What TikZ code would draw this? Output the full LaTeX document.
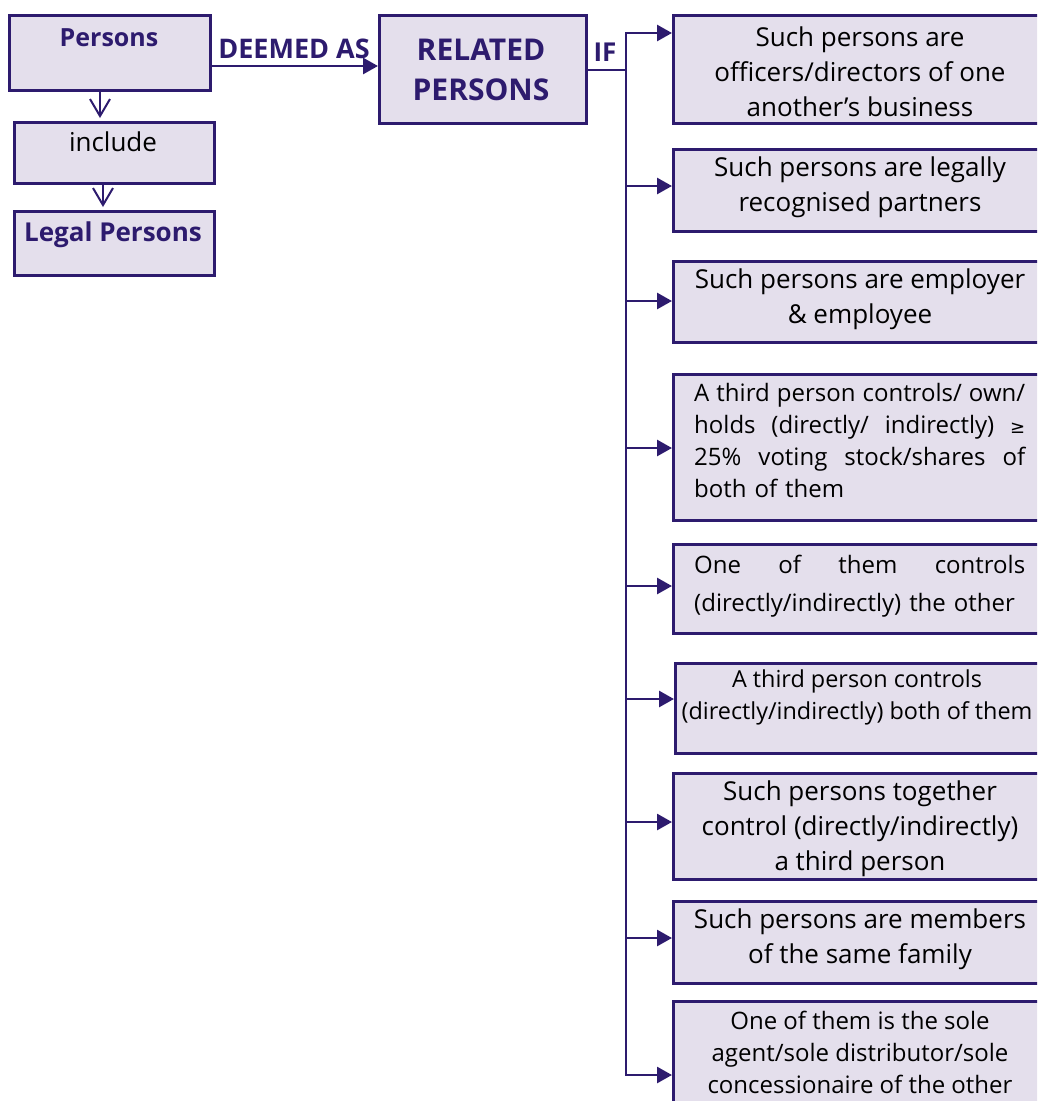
\documentclass[tikz,border=0pt]{standalone}
\usepackage{fontspec}
\setmainfont{Open Sans}
\newfontfamily\symfont{DejaVu Sans}
\usetikzlibrary{arrows.meta}
\definecolor{ind}{HTML}{2D1B6E}
\definecolor{lav}{HTML}{E4DFEC}
\newcommand\jline[1]{\makebox[331pt][l]{#1}}
\tikzset{
  box/.style={draw=ind, fill=lav, line width=2.6pt, inner sep=0pt, anchor=north west},
  txt/.style={font=\fontsize{26}{35}\selectfont, align=center, inner sep=0pt, text=black},
  stxt/.style={font=\fontsize{24}{32}\selectfont, align=center, inner sep=0pt, text=black},
  head/.style={font=\fontsize{25}{34}\selectfont\bfseries, align=center, inner sep=0pt, text=ind},
  conn/.style={draw=ind, line width=2.8pt},
  arr/.style={conn, -{Triangle[length=15pt,width=16pt]}},
  downarr/.style={draw=ind, line width=2pt, -{Straight Barb[length=17pt,width=20pt,line width=2pt]}, shorten >=3pt}
}
\begin{document}
\begin{tikzpicture}[x=1pt,y=-1pt]
\useasboundingbox (0,0) rectangle (1037,1101);
\clip (0,0) rectangle (1037,1101);
% left boxes
\node[box, minimum width=201pt, minimum height=75pt] (persons) at (8,14) {};
\node[box, minimum width=200pt, minimum height=61pt] (include) at (13,121) {};
\node[box, minimum width=200pt, minimum height=64pt] (legal) at (13,210) {};
\node[box, minimum width=207pt, minimum height=108pt] (rel) at (378,14) {};
\node[head] (tpersons) at (109,38) {Persons};
\node[txt] (tinclude) at (113,142) {include};
\node[head, font=\fontsize{26}{34}\selectfont\bfseries] (tlegal) at (113,235) {Legal Persons};
\node[head, font=\fontsize{30}{40}\selectfont\bfseries] (trel) at (481,70) {RELATED\\PERSONS};
\node[head, font=\fontsize{27}{34}\selectfont\bfseries] (tdeemed) at (294,49) {DEEMED AS};
\node[head, font=\fontsize{26}{34}\selectfont\bfseries] (tif) at (605,52) {IF};
% right boxes
\node[box, minimum width=376pt, minimum height=108pt] (b1) at (672,14) {};
\node[box, minimum width=376pt, minimum height=82pt] (b2) at (672,148) {};
\node[box, minimum width=376pt, minimum height=81pt] (b3) at (672,260) {};
\node[box, minimum width=376pt, minimum height=146pt] (b4) at (672,373) {};
\node[box, minimum width=376pt, minimum height=89pt] (b5) at (672,543) {};
\node[box, minimum width=374pt, minimum height=90pt] (b6) at (674,662) {};
\node[box, minimum width=376pt, minimum height=106pt] (b7) at (672,772) {};
\node[box, minimum width=376pt, minimum height=82pt] (b8) at (672,900) {};
\node[box, minimum width=376pt, minimum height=120pt] (b9) at (672,1000) {};
% right texts
\node[txt] (t1x) at (860,72) {Such persons are\\officers/directors of one\\another’s business};
\node[txt] (t2x) at (860,187) {Such persons are legally\\recognised partners};
\node[txt] (t3x) at (860,299) {Such persons are employer\\\& employee};
\node[stxt, align=left, text width=331pt, anchor=north west] (t4x) at (694,383)
 {\jline{A\hfill third\hfill person\hfill controls/\hfill own/}\\
  \jline{holds\hfill (directly/\hfill indirectly)\hfill {\symfont\fontsize{18}{32}\selectfont ≥}}\\
  \jline{25\%\hfill voting\hfill stock/shares\hfill of}\\
  both of them};
\node[stxt, align=left, text width=331pt, anchor=west, font=\fontsize{24}{38}\selectfont] (t5x) at (694,586)
 {\jline{One\hfill of\hfill them\hfill controls}\\
  (directly/indirectly) the other};
\node[stxt, font=\fontsize{23.4}{32}\selectfont] (t6x) at (857,697) {A third person controls\\(directly/indirectly) both of them};
\node[txt] (t7x) at (860,829) {Such persons together\\control (directly/indirectly)\\a third person};
\node[txt] (t8x) at (860,939) {Such persons are members\\of the same family};
\node[stxt] (t9x) at (860,1052) {One of them is the sole\\agent/sole distributor/sole\\concessionaire of the other};
% connectors left
\coordinate (d1) at (100,0);
\coordinate (d2) at (103,0);
\draw[downarr] (persons.south -| d1) -- (include.north -| d1);
\draw[downarr] (include.south -| d2) -- (legal.north -| d2);
\coordinate (dy) at (0,66);
\draw[arr] (persons.east |- dy) -- (rel.west |- dy);
% trunk
\coordinate (ify) at (626,70);
\coordinate (c1) at (626,33);
\coordinate (c2) at (626,186);
\coordinate (c3) at (626,301);
\coordinate (c4) at (626,448);
\coordinate (c5) at (626,586);
\coordinate (c6) at (626,699);
\coordinate (c7) at (626,822);
\coordinate (c8) at (626,938);
\coordinate (c9) at (626,1075);
\draw[conn] (rel.east |- ify) -- (ify);
\draw[arr] (c9) -- (c1) -- (b1.west |- c1);
\draw[arr] (c1) -- (c9) -- (b9.west |- c9);
\draw[arr] (c2) -- (b2.west |- c2);
\draw[arr] (c3) -- (b3.west |- c3);
\draw[arr] (c4) -- (b4.west |- c4);
\draw[arr] (c5) -- (b5.west |- c5);
\draw[arr] (c6) -- (b6.west |- c6);
\draw[arr] (c7) -- (b7.west |- c7);
\draw[arr] (c8) -- (b8.west |- c8);
\end{tikzpicture}
\end{document}
